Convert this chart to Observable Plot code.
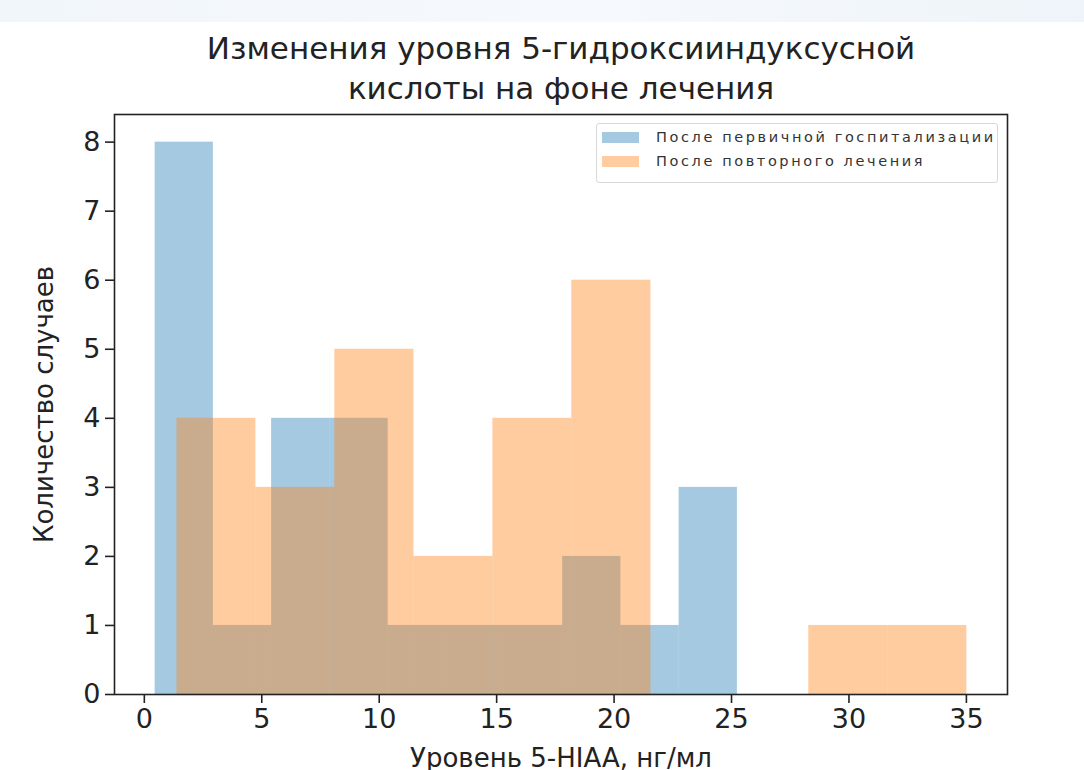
<!DOCTYPE html>
<html><head><meta charset="utf-8">
<script src="https://cdn.jsdelivr.net/npm/d3@7"></script>
<script src="https://cdn.jsdelivr.net/npm/@observablehq/plot@0.6"></script>
<style>
html,body{margin:0;padding:0;background:#fff;}
body{width:1084px;height:770px;overflow:hidden;position:relative;font-family:"DejaVu Sans",sans-serif;color:#222;}
#strip{position:absolute;left:0;top:0;width:1084px;height:22px;background:linear-gradient(to right,#f1f6fb,#f6f9fd 55%,#eef4f9);}
#title{position:absolute;left:114px;top:28px;width:894px;text-align:center;font-size:31px;line-height:40px;color:#222;}
#chart{position:absolute;left:0;top:100px;}
#legend{position:absolute;left:596px;top:123px;width:402px;height:60px;border:1px solid #d8d8d8;border-radius:3px;background:rgba(255,255,255,0.85);box-sizing:border-box;}
.row{position:absolute;left:5px;height:14px;display:flex;align-items:center;font-size:14.5px;letter-spacing:2.6px;color:#333;white-space:nowrap;}
.sw{width:37px;height:11px;margin-right:17px;flex:none;}
</style></head>
<body>
<div id="strip"></div>
<div id="title">Изменения уровня 5-гидроксииндуксусной<br>кислоты на фоне лечения</div>
<div id="chart"></div>
<div id="legend"></div>
<script>
const seriesNames = ["После первичной госпитализации", "После повторного лечения"];
const seriesColors = ["#1f77b4", "#ff7f0e"];
const blueEdges = [0.46, 2.94, 5.42, 7.90, 10.38, 12.86, 15.33, 17.81, 20.29, 22.77, 25.25];
const blueCounts = [8, 1, 4, 4, 1, 1, 1, 2, 1, 3];
const orangeEdges = [1.39, 4.75, 8.11, 11.48, 14.84, 18.20, 21.57, 24.93, 28.29, 31.66, 35.02];
const orangeCounts = [4, 3, 5, 2, 4, 6, 0, 0, 1, 1];
const xTicks = [0, 5, 10, 15, 20, 25, 30, 35];
const yTicks = [0, 1, 2, 3, 4, 5, 6, 7, 8];
const xLabel = "Уровень 5-HIAA, нг/мл";
const yLabel = "Количество случаев";

function bins(edges, counts, series) {
  return counts.map((c, i) => ({x1: edges[i], x2: edges[i + 1], y: c, series}));
}
const data = [
  ...bins(blueEdges, blueCounts, seriesNames[0]),
  ...bins(orangeEdges, orangeCounts, seriesNames[1])
];

const chart = Plot.plot({
  width: 1084,
  height: 670,
  marginTop: 14,
  marginBottom: 76,
  marginLeft: 114,
  marginRight: 77,
  style: {fontFamily: "DejaVu Sans", fontSize: "26px", color: "#222", background: "transparent", overflow: "visible"},
  x: {domain: [-1.27, 36.75], ticks: xTicks},
  y: {domain: [0, 8.4], ticks: yTicks},
  color: {domain: seriesNames, range: seriesColors},
  marks: [
    Plot.rect(data, {x1: "x1", x2: "x2", y1: () => 0, y2: "y", fill: "series", fillOpacity: 0.4}),
    Plot.frame({stroke: "#222", strokeWidth: 1.6}),
    Plot.axisX({ticks: xTicks, tickSize: 9, tickPadding: 5, strokeWidth: 1.6, fontSize: 27,
      label: null}),
    Plot.axisX({ticks: [], tickSize: 0, fontSize: 26,
      label: xLabel, labelAnchor: "center", labelArrow: "none", labelOffset: 72}),
    Plot.axisY({ticks: yTicks, tickSize: 9, tickPadding: 5, strokeWidth: 1.6, fontSize: 27,
      label: null}),
    Plot.axisY({ticks: [], tickSize: 0, fontSize: 26,
      label: yLabel, labelAnchor: "center", labelArrow: "none", labelOffset: 80})
  ]
});
document.getElementById("chart").appendChild(chart);

const legend = document.getElementById("legend");
seriesNames.forEach((name, i) => {
  const row = document.createElement("div");
  row.className = "row";
  row.style.top = (6 + i * 24) + "px";
  const sw = document.createElement("div");
  sw.className = "sw";
  sw.style.background = seriesColors[i];
  sw.style.opacity = 0.4;
  const t = document.createElement("span");
  t.textContent = name;
  row.appendChild(sw);
  row.appendChild(t);
  legend.appendChild(row);
});
</script>
</body></html>
